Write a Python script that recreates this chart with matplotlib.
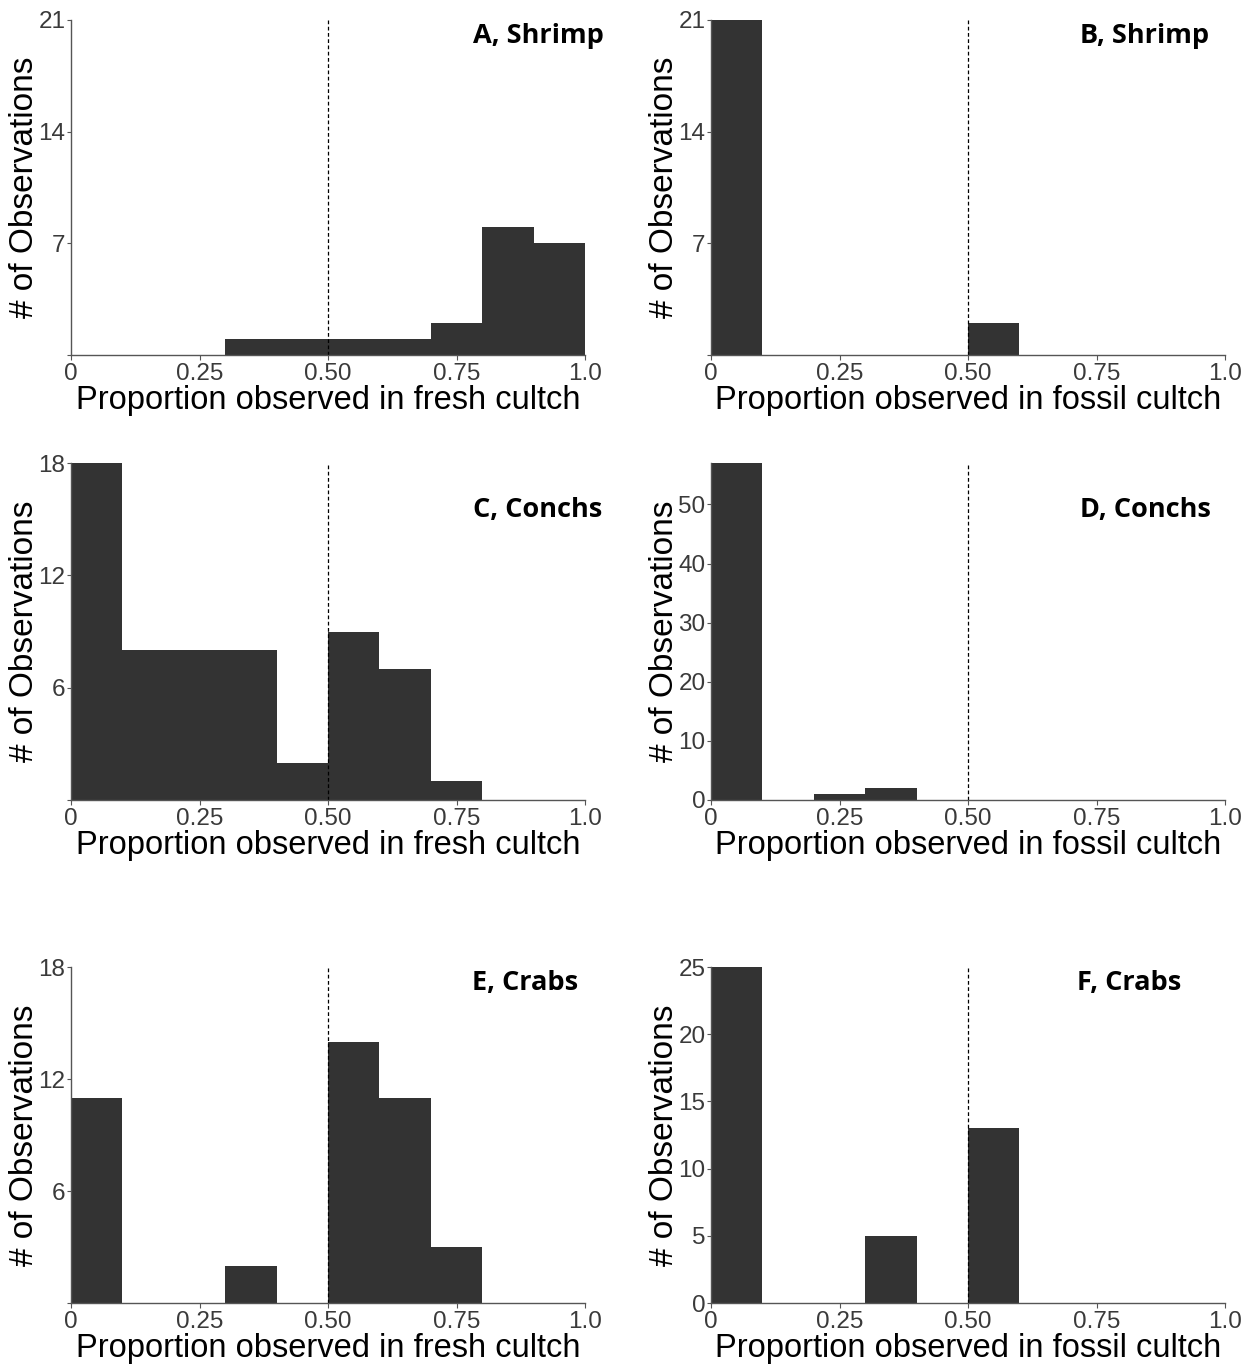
import numpy as np
import matplotlib
matplotlib.use("Agg")
import matplotlib.pyplot as plt

# bin edges shared by every histogram (bin width 0.1)
bin_edges = [0.0, 0.1, 0.2, 0.3, 0.4, 0.5, 0.6, 0.7, 0.8, 0.9, 1.0]

# counts per bin
shrimp_fresh = [0, 0, 0, 1, 1, 1, 1, 2, 8, 7]
shrimp_fossil = [21, 0, 0, 0, 0, 2, 0, 0, 0, 0]
conch_fresh = [18, 8, 8, 8, 2, 9, 7, 1, 0, 0]
conch_fossil = [57, 0, 1, 2, 0, 0, 0, 0, 0, 0]
crab_fresh = [11, 0, 0, 2, 0, 14, 11, 3, 0, 0]
crab_fossil = [25, 0, 0, 5, 0, 13, 0, 0, 0, 0]

panel_labels = ["A, Shrimp", "B, Shrimp", "C, Conchs", "D, Conchs", "E, Crabs", "F, Crabs"]
x_titles = ["Proportion observed in fresh cultch", "Proportion observed in fossil cultch"]
x_ticks = [0, 0.25, 0.5, 0.75, 1.0]
x_ticklabels = ["0", "0.25", "0.50", "0.75", "1.0"]

y_ticks = [[0, 7, 14, 21], [0, 7, 14, 21], [0, 6, 12, 18],
           [0, 10, 20, 30, 40, 50], [0, 6, 12, 18], [0, 5, 10, 15, 20, 25]]
y_ticklabels = [["", "7", "14", "21"], ["", "7", "14", "21"], ["", "6", "12", "18"],
                ["0", "10", "20", "30", "40", "50"], ["", "6", "12", "18"],
                ["0", "5", "10", "15", "20", "25"]]
y_max = [21, 21, 18, 57, 18, 25]

counts = [shrimp_fresh, shrimp_fossil, conch_fresh, conch_fossil, crab_fresh, crab_fossil]

W, H = 1255, 1367
fig = plt.figure(figsize=(W / 100, H / 100), dpi=100)

# axes boxes in pixels
col_x = [(71, 585), (711, 1225)]
row_y = [(20, 355), (463, 800), (967, 1303)]
# panel label anchor (right edge x, centre y) in pixels
label_pos = [(604, 36), (1209, 36), (602, 510), (1211, 510), (578, 983), (1181, 983)]

tick_col = "#3a3a3a"
sans = ["Liberation Sans", "DejaVu Sans"]

for i in range(6):
    r, c = divmod(i, 2)
    x0, x1 = col_x[c]
    y0, y1 = row_y[r]
    ax = fig.add_axes([x0 / W, 1 - y1 / H, (x1 - x0) / W, (y1 - y0) / H])

    left = bin_edges[:-1]
    widths = np.diff(bin_edges)
    ax.bar(left, counts[i], width=widths, align="edge", color="#333333",
           linewidth=0, zorder=2)
    ax.plot([0.5, 0.5], [0, y_max[i]], color="black", lw=0.9,
            dashes=(3, 2), zorder=3)

    ax.set_xlim(0, 1.0)
    ax.set_ylim(0, y_max[i])
    for s in ["top", "right"]:
        ax.spines[s].set_visible(False)
    for s in ["left", "bottom"]:
        ax.spines[s].set_color("#555555")
        ax.spines[s].set_linewidth(1.0)
        ax.spines[s].set_zorder(4)

    ax.set_xticks(x_ticks)
    ax.set_xticklabels(x_ticklabels, fontfamily=sans, fontsize=17.5, color=tick_col)
    ax.set_yticks(y_ticks[i])
    ax.set_yticklabels(y_ticklabels[i], fontfamily=sans, fontsize=17.5, color=tick_col)
    ax.tick_params(axis="x", length=3.5, width=0.8, color="#555555", pad=2)
    ax.tick_params(axis="y", length=3, width=0.8, color="#555555", pad=1)

    ax.set_xlabel(x_titles[c], fontfamily=sans, fontsize=23.5, color="black")
    ax.xaxis.set_label_coords(0.5, -0.135)
    ax.xaxis.label.set_va("center")
    ax.set_ylabel("# of Observations", fontfamily=sans, fontsize=24, color="black")
    ax.yaxis.set_label_coords(-0.09, 0.5)
    ax.yaxis.label.set_va("center")

    lx, ly = label_pos[i]
    fig.text(lx / W, 1 - ly / H, panel_labels[i], ha="right", va="center",
             fontfamily=["Open Sans", "DejaVu Sans"], fontweight="bold", fontsize=19.5)

fig.savefig("out.png", dpi=100, facecolor="white")
